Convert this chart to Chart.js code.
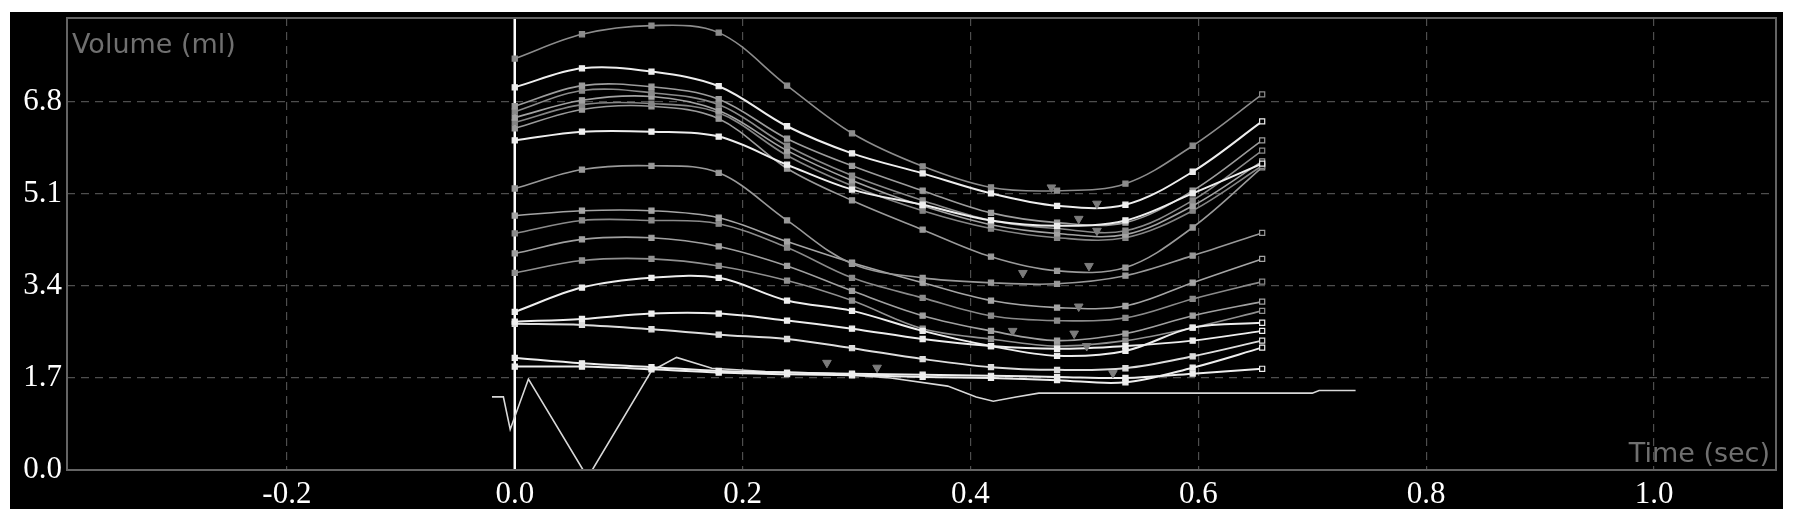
<!doctype html>
<html>

<head>
	<title>Volume curves</title>
	<script src="https://cdn.jsdelivr.net/npm/chart.js@4.4.1/dist/chart.umd.min.js"></script>
	<style>
		body {
			margin: 0;
			background: #fff;
		}

		#frame {
			position: absolute;
			left: 10px;
			top: 12px;
			width: 1773px;
			height: 497px;
			background: #000;
		}
	</style>
</head>

<body>
<div id="frame">
	<canvas id="canvas"></canvas>
</div>
<script>

	// sample times (sec) of the volume frames
	var sampleTimes = [0, 0.059, 0.120, 0.179, 0.239, 0.296, 0.358, 0.418, 0.476, 0.536, 0.595, 0.656];

	// volume curves (ml), one per segment
	var volTop   = [7.60, 8.05, 8.21, 8.08, 7.10, 6.22, 5.61, 5.22, 5.16, 5.29, 5.99, 6.94];
	var volW1    = [7.07, 7.42, 7.36, 7.09, 6.35, 5.85, 5.48, 5.11, 4.88, 4.90, 5.51, 6.44];
	var volA     = [6.72, 7.10, 7.08, 6.85, 6.12, 5.62, 5.16, 4.75, 4.57, 4.57, 5.16, 6.09];
	var volB     = [6.62, 7.01, 6.97, 6.75, 5.99, 5.44, 4.98, 4.61, 4.46, 4.42, 4.98, 5.90];
	var volC     = [6.51, 6.83, 6.90, 6.64, 5.90, 5.35, 4.88, 4.53, 4.37, 4.35, 4.88, 5.70];
	var volD     = [6.42, 6.75, 6.77, 6.60, 5.81, 5.25, 4.79, 4.46, 4.29, 4.29, 4.79, 5.62];
	var volE     = [6.31, 6.66, 6.72, 6.49, 5.57, 4.98, 4.44, 3.94, 3.68, 3.74, 4.48, 5.59];
	var volW2    = [6.09, 6.25, 6.25, 6.16, 5.64, 5.18, 4.90, 4.61, 4.51, 4.61, 5.11, 5.66];
	var volF     = [5.20, 5.55, 5.62, 5.49, 4.61, 3.81, 3.55, 3.46, 3.44, 3.59, 3.96, 4.38];
	var volG     = [4.70, 4.79, 4.79, 4.66, 4.22, 3.83, 3.46, 3.13, 3.00, 3.03, 3.46, 3.90];
	var volH     = [4.37, 4.61, 4.61, 4.55, 4.11, 3.55, 3.18, 2.85, 2.76, 2.81, 3.16, 3.48];
	var volI     = [4.00, 4.26, 4.29, 4.13, 3.77, 3.31, 2.85, 2.57, 2.39, 2.52, 2.85, 3.11];
	var volJ     = [3.64, 3.87, 3.90, 3.77, 3.50, 3.13, 2.61, 2.42, 2.29, 2.39, 2.63, 2.94];
	var volW3    = [2.92, 3.37, 3.55, 3.55, 3.13, 2.94, 2.57, 2.29, 2.11, 2.20, 2.63, 2.72];
	var volW4    = [2.74, 2.79, 2.89, 2.89, 2.76, 2.61, 2.42, 2.29, 2.24, 2.29, 2.39, 2.57];
	var volW5    = [2.70, 2.68, 2.60, 2.50, 2.42, 2.25, 2.05, 1.90, 1.85, 1.88, 2.10, 2.39];
	var volW6    = [2.07, 1.97, 1.90, 1.83, 1.80, 1.78, 1.76, 1.74, 1.72, 1.70, 1.78, 1.87];
	var volW7    = [1.91, 1.91, 1.86, 1.80, 1.77, 1.75, 1.72, 1.70, 1.66, 1.62, 1.89, 2.26];

	// reference trace under the curves
	var traceTimes  = [-0.020, -0.010, -0.004, 0.012, 0.060, 0.068, 0.120, 0.142, 0.173, 0.220, 0.280, 0.330, 0.380, 0.405, 0.420, 0.440, 0.460, 0.700, 0.706, 0.738];
	var traceValues = [1.35, 1.35, 0.75, 1.68, 0.00, 0.00, 1.83, 2.08, 1.88, 1.82, 1.78, 1.70, 1.55, 1.35, 1.27, 1.35, 1.42, 1.42, 1.47, 1.47];

	// end-systole markers
	var minTimes  = [0.471, 0.511, 0.495, 0.511, 0.446, 0.504, 0.495, 0.437, 0.491, 0.502, 0.525, 0.274, 0.318];
	var minValues = [5.22, 4.92, 4.64, 4.42, 3.64, 3.77, 3.02, 2.57, 2.52, 2.29, 1.79, 1.98, 1.89];

	var markerTime = 0;

	var yTickValues = [0, 1.7, 3.4, 5.1, 6.8];
	var xTickValues = [-0.2, 0, 0.2, 0.4, 0.6, 0.8, 1.0];
	var yRange = [0, 8.35];
	var xRange = [-0.393, 1.107];

	var white = '#eeeeee';
	var curves = [
		[volTop, '#8c8c8c'], [volW1, white], [volA, '#9c9c9c'], [volB, '#8a8a8a'],
		[volC, '#a2a2a2'], [volD, '#858585'], [volE, '#9a9a9a'], [volW2, white],
		[volF, '#999999'], [volG, '#a5a5a5'], [volH, '#8a8a8a'], [volI, '#a0a0a0'],
		[volJ, '#909090'], [volW3, white], [volW4, white], [volW5, '#dddddd'],
		[volW6, white], [volW7, white]
	];

	function toPoints(xs, ys) {
		return xs.map(function (x, i) { return {x: x, y: ys[i]}; });
	}

	function buildDatasets() {
		var sets = [];

		curves.forEach(function (c) {
			var color = c[1];
			var isWhite = color === white || color === '#dddddd';
			var last = c[0].length - 1;
			sets.push({
				data: toPoints(sampleTimes, c[0]),
				showLine: true,
				borderColor: color,
				borderWidth: isWhite ? 2 : 1.6,
				tension: 0.35,
				pointStyle: 'rect',
				pointRadius: 3.6,
				pointBorderWidth: 1.2,
				pointBorderColor: color,
				pointBackgroundColor: function (ctx) {
					return ctx.dataIndex === last ? '#000' : color;
				},
				order: isWhite ? 1 : 2
			});
		});

		sets.push({
			data: toPoints(traceTimes, traceValues),
			showLine: true,
			borderColor: '#d8d8d8',
			borderWidth: 1.6,
			tension: 0,
			pointRadius: 0,
			order: 1
		});

		sets.push({
			data: toPoints(minTimes, minValues),
			showLine: false,
			pointStyle: 'triangle',
			rotation: 180,
			pointRadius: 5,
			pointBackgroundColor: '#7c7c7c',
			pointBorderColor: '#7c7c7c',
			order: 0
		});

		sets.push({
			data: toPoints([markerTime, markerTime], yRange),
			showLine: true,
			borderColor: '#ffffff',
			borderWidth: 2.5,
			pointRadius: 0,
			order: 3
		});

		return sets;
	}

	var framePlugin = {
		id: 'frame',
		afterDatasetsDraw: function (chart) {
			var ctx = chart.ctx;
			var a = chart.chartArea;
			ctx.save();
			ctx.strokeStyle = '#646464';
			ctx.lineWidth = 2;
			ctx.setLineDash([]);
			ctx.strokeRect(a.left, a.top, a.right - a.left, a.bottom - a.top);

			ctx.fillStyle = '#707070';
			ctx.font = '27px "DejaVu Sans"';
			ctx.textBaseline = 'alphabetic';
			ctx.textAlign = 'left';
			ctx.fillText('Volume (ml)', a.left + 5, a.top + 35);
			ctx.textAlign = 'right';
			ctx.fillText('Time (sec)', a.right - 6, a.bottom - 8);
			ctx.restore();
		}
	};

	function createChart() {
		var tickFont = {family: '"Liberation Serif"', size: 31};
		var ctx = document.getElementById('canvas').getContext('2d');

		window.volChart = new Chart(ctx, {
			type: 'scatter',
			data: {datasets: buildDatasets()},
			plugins: [framePlugin],
			options: {
				responsive: true,
				maintainAspectRatio: false,
				animation: false,
				layout: {
					padding: {top: 6, right: 7, left: 0, bottom: 0}
				},
				plugins: {
					legend: {display: false},
					tooltip: {enabled: false}
				},
				scales: {
					x: {
						type: 'linear',
						min: xRange[0],
						max: xRange[1],
						afterBuildTicks: function (scale) {
							scale.ticks = xTickValues.map(function (v) { return {value: v}; });
						},
						afterFit: function (scale) {
							scale.height = 39;
							scale.paddingLeft = 0;
							scale.paddingRight = 0;
						},
						ticks: {
							color: '#ffffff',
							font: tickFont,
							padding: 6,
							maxRotation: 0,
							autoSkip: false,
							callback: function (v) { return v.toFixed(1); }
						},
						grid: {color: '#4e4e4e', lineWidth: 1.2, drawTicks: false},
						border: {display: false, dash: [8, 6]}
					},
					y: {
						type: 'linear',
						min: yRange[0],
						max: yRange[1],
						afterBuildTicks: function (scale) {
							scale.ticks = yTickValues.map(function (v) { return {value: v}; });
						},
						afterFit: function (scale) {
							scale.width = 57;
							scale.paddingTop = 0;
							scale.paddingBottom = 0;
						},
						ticks: {
							color: '#ffffff',
							font: tickFont,
							padding: 5,
							autoSkip: false,
							callback: function (v) { return v.toFixed(1); }
						},
						grid: {color: '#4e4e4e', lineWidth: 1.2, drawTicks: false},
						border: {display: false, dash: [8, 6]}
					}
				}
			}
		});
	}

	createChart();

</script>
</body>

</html>
